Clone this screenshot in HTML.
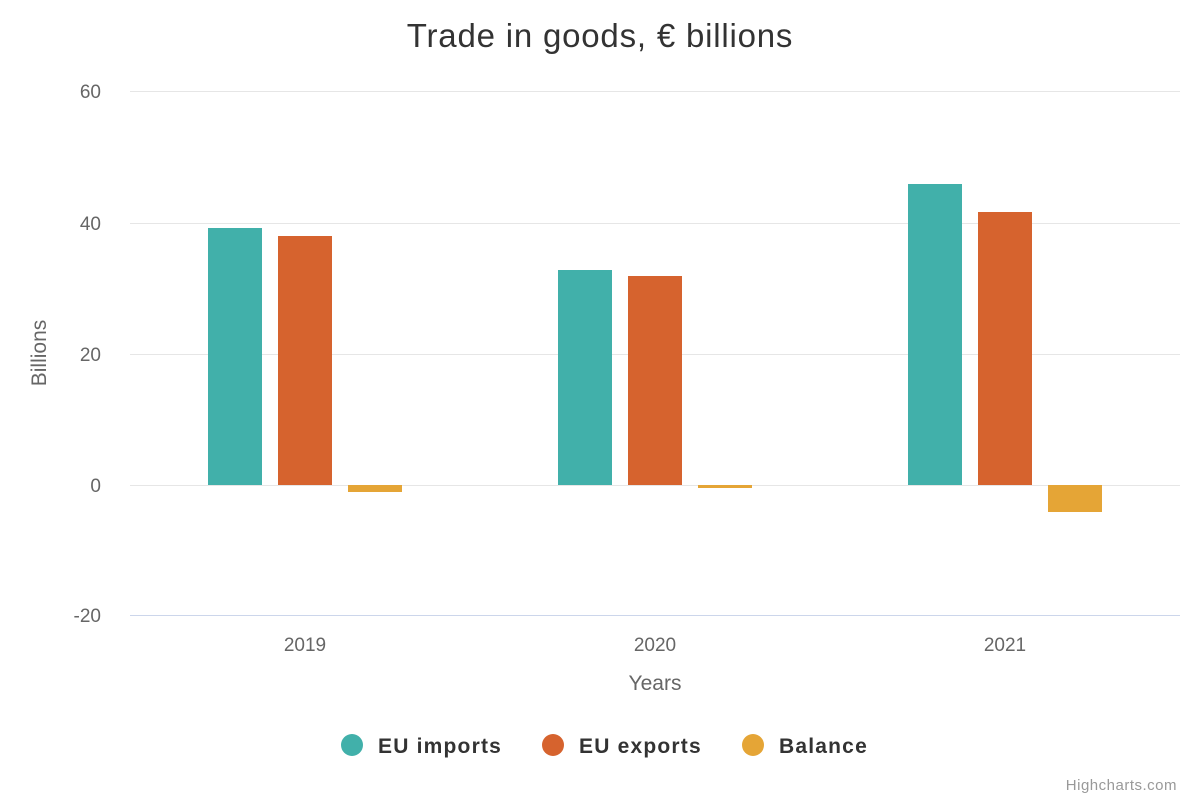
<!DOCTYPE html>
<html><head><meta charset="utf-8"><style>
body{margin:0;background:#fff;}
svg{display:block;font-family:"Liberation Sans",sans-serif;}
</style></head><body>
<svg width="1200" height="800" viewBox="0 0 1200 800">
<rect width="1200" height="800" fill="#fff"/>
<text x="600" y="47" text-anchor="middle" font-size="33" letter-spacing="0.8" fill="#333">Trade in goods, € billions</text>
<g stroke="#e6e6e6" stroke-width="1">
<line x1="130" x2="1180" y1="91.5" y2="91.5"/>
<line x1="130" x2="1180" y1="223.5" y2="223.5"/>
<line x1="130" x2="1180" y1="354.5" y2="354.5"/>
<line x1="130" x2="1180" y1="485.5" y2="485.5"/>
</g>
<line x1="130" x2="1180" y1="615.5" y2="615.5" stroke="#ccd6eb" stroke-width="1"/>
<g font-size="19" fill="#666" text-anchor="end">
<text x="101" y="98">60</text>
<text x="101" y="230">40</text>
<text x="101" y="361">20</text>
<text x="101" y="492">0</text>
<text x="101" y="622">-20</text>
</g>
<text transform="translate(46,353) rotate(-90)" text-anchor="middle" font-size="21" fill="#666">Billions</text>
<g font-size="19" fill="#666" text-anchor="middle">
<text x="305" y="651">2019</text>
<text x="655" y="651">2020</text>
<text x="1005" y="651">2021</text>
</g>
<text x="655" y="690" text-anchor="middle" font-size="21" fill="#666">Years</text>
<g fill="#41b0aa">
<rect x="208" y="228" width="54" height="257"/>
<rect x="558" y="270" width="54" height="215"/>
<rect x="908" y="184" width="54" height="301"/>
</g>
<g fill="#d6632e">
<rect x="278" y="236" width="54" height="249"/>
<rect x="628" y="276" width="54" height="209"/>
<rect x="978" y="212" width="54" height="273"/>
</g>
<g fill="#e5a536">
<rect x="348" y="485" width="54" height="7"/>
<rect x="698" y="485" width="54" height="3"/>
<rect x="1048" y="485" width="54" height="27"/>
</g>
<g font-size="21" font-weight="bold" fill="#333" letter-spacing="1.2">
<circle cx="352" cy="745" r="11" fill="#41b0aa"/><text x="378" y="753">EU imports</text>
<circle cx="553" cy="745" r="11" fill="#d6632e"/><text x="579" y="753">EU exports</text>
<circle cx="753" cy="745" r="11" fill="#e5a536"/><text x="779" y="753">Balance</text>
</g>
<text x="1177" y="790" text-anchor="end" font-size="15" fill="#999" letter-spacing="0.5">Highcharts.com</text>
</svg>
</body></html>
